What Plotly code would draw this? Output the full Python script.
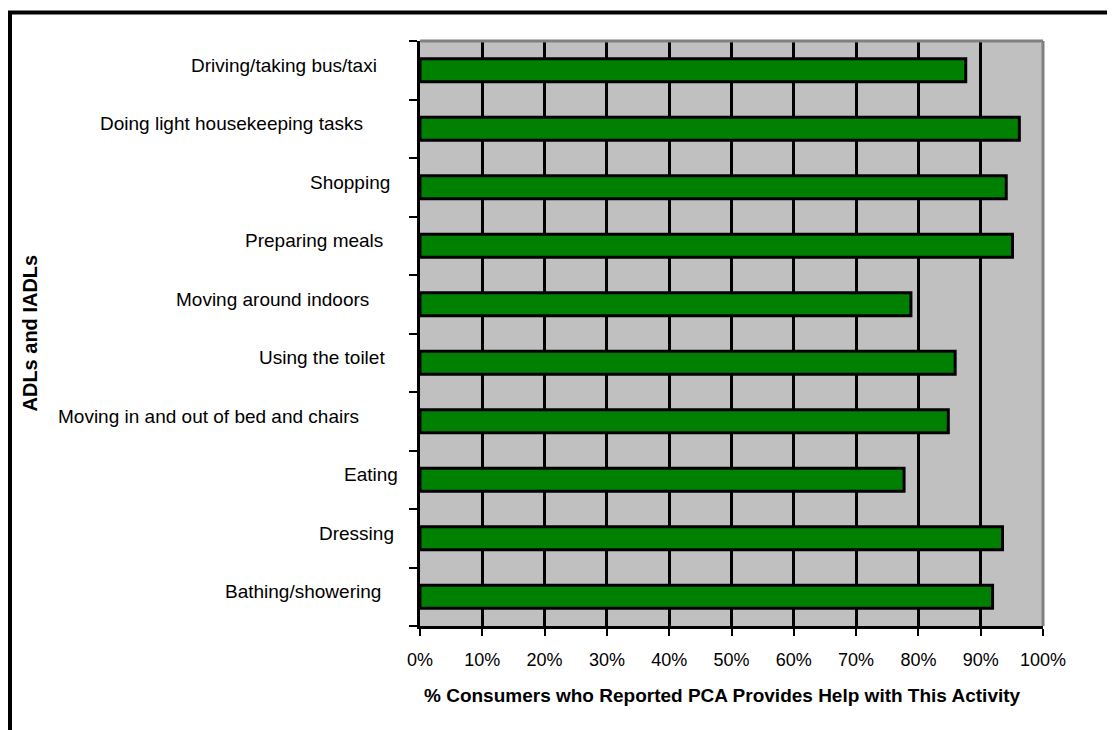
import plotly.graph_objects as go

# Data (bottom to top)
categories = [
    "Bathing/showering",
    "Dressing",
    "Eating",
    "Moving in and out of bed and chairs",
    "Using the toilet",
    "Moving around indoors",
    "Preparing meals",
    "Shopping",
    "Doing light housekeeping tasks",
    "Driving/taking bus/taxi",
]
values = [0.919, 0.935, 0.777, 0.848, 0.859, 0.788, 0.951, 0.941, 0.962, 0.876]
# gap (px) between axis and right edge of each category label, as in the original layout
label_gaps = [37, 24, 20, 59, 33, 49, 35, 28, 55, 41]

x_ticks = [i / 10 for i in range(11)]
x_title = "% Consumers who Reported PCA Provides Help with This Activity"
y_title = "ADLs and IADLs"

# page body has an 8px margin; figure coordinates = screen - 8
W, H = 1107, 722
ML, MR, MT, MB = 412, 72, 33, 104
PW = W - ML - MR
PH = H - MT - MB

FONT = "Liberation Sans, Arial, sans-serif"

fig = go.Figure()
fig.add_trace(go.Bar(
    y=categories, x=values, orientation="h",
    marker=dict(color="#008000", line=dict(color="black", width=3)),
    width=0.39, hoverinfo="x+y",
))

annotations = []
for cat, gap in zip(categories, label_gaps):
    annotations.append(dict(
        x=0, xref="paper", y=cat, yref="y", text=cat, showarrow=False,
        xanchor="right", yanchor="middle", xshift=-gap, yshift=5,
        font=dict(family=FONT, size=19, color="black"),
    ))


def px_x(p):
    return (p - ML) / PW


def px_y(p):
    return (MT + PH - p) / PH


annotations.append(dict(
    x=px_x(21), xref="paper", y=0.5, yref="paper", text="<b>" + y_title + "</b>",
    showarrow=False, textangle=-90, xanchor="center", yanchor="middle",
    font=dict(family=FONT, size=20, color="black"),
))
annotations.append(dict(
    x=px_x(714), xref="paper", y=px_y(687), yref="paper", text="<b>" + x_title + "</b>",
    showarrow=False, xanchor="center", yanchor="middle",
    font=dict(family=FONT, size=19, color="black"),
))

shapes = [
    # gray top and right plot border
    dict(type="line", xref="paper", yref="paper", x0=0, x1=1, y0=1, y1=1,
         line=dict(color="#808080", width=3), layer="above"),
    dict(type="line", xref="paper", yref="paper", x0=1, x1=1, y0=0, y1=1,
         line=dict(color="#808080", width=3), layer="above"),
    # outer chart border
    dict(type="rect", xref="paper", yref="paper",
         x0=px_x(2), x1=px_x(1120), y0=px_y(740), y1=px_y(4.5),
         line=dict(color="black", width=4), fillcolor="rgba(0,0,0,0)", layer="above"),
]

fig.update_layout(
    width=W, height=H,
    margin=dict(l=ML, r=MR, t=MT, b=MB),
    paper_bgcolor="white", plot_bgcolor="#C0C0C0",
    showlegend=False,
    annotations=annotations,
    shapes=shapes,
    xaxis=dict(
        range=[0, 1], tickvals=x_ticks, tickformat=".0%",
        showgrid=True, gridcolor="black", gridwidth=3,
        showline=True, linecolor="black", linewidth=3,
        ticks="outside", ticklen=7, tickwidth=2, tickcolor="black",
        ticklabelstandoff=8,
        tickfont=dict(family=FONT, size=18, color="black"),
        zeroline=False, fixedrange=True,
    ),
    yaxis=dict(
        categoryorder="array", categoryarray=categories,
        showticklabels=False, showgrid=False,
        showline=True, linecolor="black", linewidth=3,
        ticks="outside", tickson="boundaries", ticklen=8, tickwidth=2, tickcolor="black",
        zeroline=False, fixedrange=True,
    ),
)

fig.write_html("out.html")
